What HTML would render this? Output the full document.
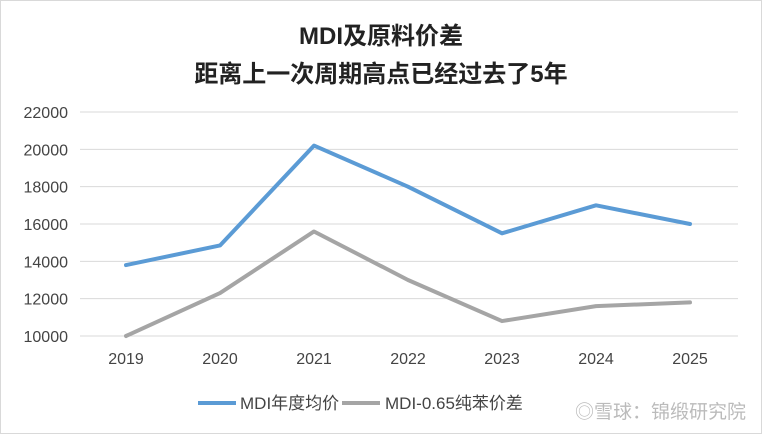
<!DOCTYPE html>
<html><head><meta charset="utf-8"><style>
body{margin:0;background:#fff;}
#wrap{position:relative;width:762px;height:434px;overflow:hidden;background:#fff;font-family:"Liberation Sans","Noto Sans CJK SC",sans-serif;}
</style></head><body>
<div id="wrap">
<svg id="chart" width="762" height="434"></svg>
</div>
<script>
const categories=["2019","2020","2021","2022","2023","2024","2025"];
const mdiValues=[13800,14850,20200,18000,15500,17000,16000];
const spreadValues=[10000,12300,15600,13000,10800,11600,11800];
const yTicks=[10000,12000,14000,16000,18000,20000,22000];
const NS="http://www.w3.org/2000/svg";
const svg=document.getElementById('chart');
function x(i){return 126+i*94;}
function y(v){return 336-(v-10000)/12000*224;}
function mk(t,a,p){const e=document.createElementNS(NS,t);for(const k in a)e.setAttribute(k,a[k]);(p||svg).appendChild(e);return e;}
let b=mk('rect',{x:0.5,y:0.5,width:761,height:433,fill:'#fff',stroke:'#d9d9d9'});


let t1=mk('text',{x:381,y:44,'text-anchor':'middle','font-size':24,'font-weight':'bold',fill:'#222'});t1.textContent='MDI及原料价差';


let t2=mk('text',{x:381,y:82,'text-anchor':'middle','font-size':24,'font-weight':'bold',fill:'#222'});t2.textContent='距离上一次周期高点已经过去了5年';


yTicks.forEach(v=>{
 let g=mk('line',{x1:80,x2:738,y1:y(v),y2:y(v),stroke:'#d9d9d9','stroke-width':1});
 
 
 let l=mk('text',{x:68,y:y(v)+6,'text-anchor':'end','font-size':16,fill:'#444'});l.textContent=v;
 
 
});
categories.forEach((c,i)=>{
 let l=mk('text',{x:x(i),y:364,'text-anchor':'middle','font-size':16,fill:'#444'});l.textContent=c;
 
 
});
function series(vals,color,name){
 let p=mk('polyline',{points:vals.map((v,i)=>x(i)+','+y(v)).join(' '),fill:'none',stroke:color,'stroke-width':4,'stroke-linejoin':'round','stroke-linecap':'round'});
 
 
}
series(spreadValues,'#a5a5a5','mdi-spread-line');
series(mdiValues,'#5b9bd5','mdi-price-line');
let l1=mk('line',{x1:198,x2:236,y1:403,y2:403,stroke:'#5b9bd5','stroke-width':4});


let lt1=mk('text',{x:240,y:409,'font-size':17,fill:'#444'});lt1.textContent='MDI年度均价';


let l2=mk('line',{x1:342,x2:380,y1:403,y2:403,stroke:'#a5a5a5','stroke-width':4});


let lt2=mk('text',{x:385,y:409,'font-size':17,fill:'#444'});lt2.textContent='MDI-0.65纯苯价差';


let w=mk('text',{x:575,y:418,'font-size':19,fill:'#bbb'});w.textContent='◎雪球：锦缎研究院';


</script>
</body></html>
